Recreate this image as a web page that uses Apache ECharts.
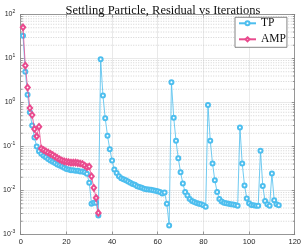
<!DOCTYPE html>
<html><head><meta charset="utf-8">
<script src="https://cdn.jsdelivr.net/npm/echarts@6/dist/echarts.min.js"></script>
<style>html,body{margin:0;padding:0;background:#fff}#c{width:304px;height:246px}</style>
</head><body><div id="c"></div>
<script>
const chartTitle = 'Settling Particle, Residual vs Iterations';
const seriesNames = ['TP', 'AMP'];
const xTicks = [0, 20, 40, 60, 80, 100, 120];
const yTicks = [0.001, 0.01, 0.1, 1, 10, 100];
// residual per iteration (iteration = position in array, starting at 1)
const tpResidual = [
  33, 5.0, 1.5, 0.6, 0.3, 0.16, 0.10, 0.078, 0.068, 0.062,
  0.057, 0.052, 0.048, 0.045, 0.042, 0.039, 0.037, 0.035, 0.033, 0.031,
  0.030, 0.029, 0.029, 0.028, 0.028, 0.027, 0.027, 0.026, 0.024, 0.015,
  0.0050, 0.0053, 0.0053, 0.0027, 9.6, 1.45, 0.44, 0.175, 0.087, 0.048,
  0.030, 0.025, 0.021, 0.019, 0.018, 0.017, 0.016, 0.015, 0.014, 0.0135,
  0.0125, 0.012, 0.0115, 0.011, 0.0107, 0.0105, 0.0104, 0.0101, 0.0099, 0.0096,
  0.0092, 0.0086, 0.0090, 0.0050, 0.0016, 2.9, 0.45, 0.135, 0.054, 0.026,
  0.0145, 0.0092, 0.0077, 0.0064, 0.0058, 0.0055, 0.0052, 0.0050, 0.0049, 0.0046,
  0.0043, 0.88, 0.135, 0.041, 0.017, 0.0093, 0.0064, 0.0056, 0.0053, 0.0051,
  0.0050, 0.0049, 0.0048, 0.0047, 0.0045, 0.27, 0.041, 0.013, 0.0066, 0.0051,
  0.0047, 0.0046, 0.0045, 0.0045, 0.080, 0.0127, 0.0058, 0.0049, 0.0045, 0.0245,
  0.0060, 0.0049, 0.0046
];
const ampResidual = [
  51, 6.9, 2.2, 0.75, 0.52, 0.25, 0.17, 0.28, 0.09, 0.083,
  0.078, 0.073, 0.068, 0.064, 0.059, 0.055, 0.051, 0.048, 0.046, 0.045,
  0.044, 0.043, 0.043, 0.043, 0.042, 0.041, 0.040, 0.037, 0.034, 0.035,
  0.021, 0.0115, 0.0068, 0.0031
];

const colors = ['#4DBEEE', '#E94B8E'];
const xMin = xTicks[0], xMax = xTicks[xTicks.length - 1];
const yMin = yTicks[0], yMax = yTicks[yTicks.length - 1];
const minorVals = [];
for (let i = 0; i < yTicks.length - 1; i++) for (let k = 2; k <= 9; k++) minorVals.push([xMin, yTicks[i] * k]);

const tpData = tpResidual.map((v, i) => [i + 1, v]);
const ampData = ampResidual.map((v, i) => [i + 1, v]);

const axisColor = '#808080';
const labelFont = 'Liberation Sans';
const serif = 'Liberation Serif';

const chart = echarts.init(document.getElementById('c'), null, {renderer: 'canvas'});
chart.setOption({
  animation: false,
  backgroundColor: '#fff',
  title: {
    text: chartTitle, left: 158, top: -1, textAlign: 'center',
    textStyle: {fontFamily: serif, fontSize: 12.5, fontWeight: 'normal', color: '#111'}
  },
  grid: {left: 19, right: 7, top: 14.5, bottom: 11.5, containLabel: false},
  legend: {
    orient: 'vertical', left: 235, top: 17.3,
    data: seriesNames,
    itemWidth: 17, itemHeight: 5, itemGap: 4,
    padding: [0, 1, 2, 3],
    backgroundColor: '#fff', borderColor: '#666', borderWidth: 0.8,
    textStyle: {fontFamily: serif, fontSize: 11.5, color: '#111', lineHeight: 12}
  },
  xAxis: [{
    type: 'value', min: xMin, max: xMax, interval: 20, position: 'bottom',
    axisLine: {show: true, onZero: false, lineStyle: {color: axisColor, width: 0.8}},
    axisTick: {show: true, inside: true, length: 3, lineStyle: {color: axisColor, width: 0.8}},
    axisLabel: {margin: 3, fontFamily: labelFont, fontSize: 7.5, color: '#262626'},
    splitLine: {show: true, lineStyle: {color: '#E3E3E3', width: 0.8}}
  }, {
    type: 'value', min: xMin, max: xMax, interval: 20, position: 'top',
    axisLine: {show: true, onZero: false, lineStyle: {color: axisColor, width: 0.8}},
    axisTick: {show: true, inside: true, length: 3, lineStyle: {color: axisColor, width: 0.8}},
    axisLabel: {show: false}, splitLine: {show: false}
  }],
  yAxis: [{
    type: 'log', logBase: 10, min: yMin, max: yMax, position: 'left',
    axisLine: {show: true, onZero: false, lineStyle: {color: axisColor, width: 0.8}},
    axisTick: {show: true, inside: true, length: 3, lineStyle: {color: axisColor, width: 0.8}},
    axisLabel: {
      margin: 5.5, color: '#262626',
      formatter: v => '{b|10}{e|' + Math.round(Math.log10(v)) + '}',
      rich: {
        b: {fontFamily: labelFont, fontSize: 7, lineHeight: 10, color: '#262626'},
        e: {fontFamily: labelFont, fontSize: 5, lineHeight: 10, verticalAlign: 'top', color: '#262626'}
      }
    },
    splitLine: {show: true, lineStyle: {color: '#E3E3E3', width: 0.8}}
  }, {
    type: 'log', logBase: 10, min: yMin, max: yMax, position: 'right',
    axisLine: {show: true, onZero: false, lineStyle: {color: axisColor, width: 0.8}},
    axisTick: {show: true, inside: true, length: 3, lineStyle: {color: axisColor, width: 0.8}},
    axisLabel: {show: false}, splitLine: {show: false}
  }],
  series: [{
    type: 'custom', name: 'minor', silent: true, z: 1, clip: false,
    xAxisIndex: 0, yAxisIndex: 0,
    dimensions: ['x', 'y'],
    encode: {x: 0, y: 1},
    data: minorVals,
    renderItem: function (params, api) {
      const v = api.value(1);
      const a = api.coord([xMin, v]);
      const b = api.coord([xMax, v]);
      return {type: 'group', children: [
        {type: 'line', shape: {x1: a[0], y1: a[1], x2: b[0], y2: b[1]}, style: {stroke: '#C8C8C8', lineWidth: 0.8, lineDash: [1, 1.5]}},
        {type: 'line', shape: {x1: a[0], y1: a[1], x2: a[0] + 2, y2: a[1]}, style: {stroke: axisColor, lineWidth: 0.8}},
        {type: 'line', shape: {x1: b[0] - 2, y1: b[1], x2: b[0], y2: b[1]}, style: {stroke: axisColor, lineWidth: 0.8}}
      ]};
    }
  }, {
    name: seriesNames[0], type: 'line', data: tpData, z: 3,
    symbol: 'emptyCircle', symbolSize: 4,
    lineStyle: {color: colors[0], width: 0.8},
    itemStyle: {color: colors[0], borderColor: colors[0], borderWidth: 0.8}
  }, {
    name: seriesNames[1], type: 'line', data: ampData, z: 4,
    symbol: 'emptyDiamond', symbolSize: [4.5, 5.5],
    lineStyle: {color: colors[1], width: 0.8},
    itemStyle: {color: colors[1], borderColor: colors[1], borderWidth: 0.8}
  }]
});
</script>
</body></html>
